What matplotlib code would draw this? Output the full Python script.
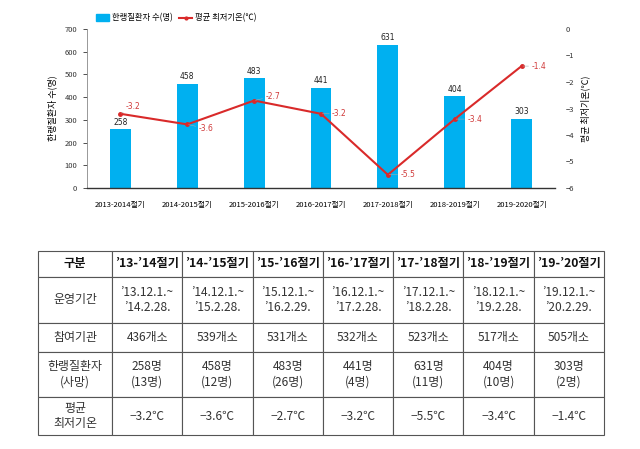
import matplotlib
matplotlib.use("Agg")
import matplotlib.pyplot as plt
from matplotlib.patches import Patch
from matplotlib.lines import Line2D

plt.rcParams['font.family'] = ['Noto Sans CJK KR', 'DejaVu Sans']

# data
seasons = ["2013-2014절기", "2014-2015절기", "2015-2016절기", "2016-2017절기",
           "2017-2018절기", "2018-2019절기", "2019-2020절기"]
patients = [258, 458, 483, 441, 631, 404, 303]
min_temp = [-3.2, -3.6, -2.7, -3.2, -5.5, -3.4, -1.4]

# table data
col_heads = ["구분", "’13-’14절기", "’14-’15절기", "’15-’16절기", "’16-’17절기",
             "’17-’18절기", "’18-’19절기", "’19-’20절기"]
periods = ["’13.12.1.~\n’14.2.28.", "’14.12.1.~\n’15.2.28.", "’15.12.1.~\n’16.2.29.",
           "’16.12.1.~\n’17.2.28.", "’17.12.1.~\n’18.2.28.", "’18.12.1.~\n’19.2.28.",
           "’19.12.1.~\n’20.2.29."]
institutions = [436, 539, 531, 532, 523, 517, 505]
deaths = [13, 12, 26, 4, 11, 10, 2]

bar_color = "#00b0f0"
line_color = "#d92a2a"

fig = plt.figure(figsize=(6.4, 4.49), dpi=100)

# chart
ax = fig.add_axes([87 / 640, 1 - 188 / 449, 468 / 640, 159 / 449])
x = list(range(len(seasons)))
ax.bar(x, patients, width=0.31, color=bar_color, zorder=2)
for xi, v in zip(x, patients):
    ax.text(xi, v + 12, str(v), ha="center", va="bottom", fontsize=5.5,
            color="#222222", family="DejaVu Sans")
ax.set_xlim(-0.5, 6.5)
ax.set_ylim(0, 700)
ax.set_yticks(range(0, 701, 100))
ax.set_xticks(x)
ax.set_xticklabels(seasons, fontsize=5.5)
ax.tick_params(axis="x", length=0, pad=9)
ax.tick_params(axis="y", length=3, width=0.6, labelsize=5.5, pad=4, colors="#333333")
for s in ["top", "right"]:
    ax.spines[s].set_visible(False)
ax.spines["left"].set_color("#888888")
ax.spines["left"].set_linewidth(0.6)
ax.spines["bottom"].set_color("#333333")
ax.spines["bottom"].set_linewidth(1.0)
ax.set_ylabel("한랭질환자 수(명)", fontsize=6.5, labelpad=5)

ax2 = ax.twinx()
ax2.plot(x, min_temp, color=line_color, lw=1.5, marker="o", ms=2.5, zorder=3)
ax2.set_ylim(-6, 0)
ax2.set_yticks(range(-6, 1))
ax2.tick_params(axis="y", length=0, labelsize=5.5, pad=8, colors="#333333")
for s in ["top", "left", "right", "bottom"]:
    ax2.spines[s].set_visible(False)
ax2.set_ylabel("평균 최저기온(℃)", fontsize=6.5, rotation=90, labelpad=4)

offsets = [(4, 5), (8, -3), (8, 3), (8, 0), (9, 0), (9, 0), (7, 0)]
for xi, t, off in zip(x, min_temp, offsets):
    ax2.annotate(f"{t}", (xi, t), xytext=off, textcoords="offset points",
                 ha="left", va="center", fontsize=5.5, color="#d03a3a",
                 family="DejaVu Sans",
                 arrowprops=dict(arrowstyle="-", lw=0.4, color="#aaaaaa",
                                 shrinkA=0, shrinkB=1))

handles = [Patch(color=bar_color), Line2D([], [], color=line_color, lw=1.5, marker="o", ms=2)]
fig.legend(handles, ["한랭질환자 수(명)", "평균 최저기온(℃)"],
           loc="center", bbox_to_anchor=(176 / 640, 1 - 18 / 449), ncol=2,
           frameon=False, fontsize=6, handlelength=1.6, handleheight=0.8,
           columnspacing=0.8, handletextpad=0.3)

# table
tax = fig.add_axes([38 / 640, 1 - 435 / 449, 566 / 640, 184 / 449])
tax.axis("off")
rows = [col_heads,
        ["운영기간"] + periods,
        ["참여기관"] + [f"{v}개소" for v in institutions],
        ["한랭질환자\n(사망)"] + [f"{p}명\n({d}명)" for p, d in zip(patients, deaths)],
        ["평균\n최저기온"] + [f"{t:.1f}℃".replace("-", "−") for t in min_temp]]
row_h = [26, 46, 29, 45, 38]
col_w = [74] + [70.3] * 7
tbl = tax.table(cellText=rows, cellLoc="center", loc="upper left",
                colWidths=[w / 566 for w in col_w], bbox=[0, 0, 1, 1])
tbl.auto_set_font_size(False)
for (r, c), cell in tbl.get_celld().items():
    cell.set_height(row_h[r] / 184)
    cell.set_edgecolor("#555555")
    cell.set_linewidth(0.8)
    txt = cell.get_text()
    txt.set_fontsize(8.6)
    txt.set_linespacing(1.25)
    if r == 0:
        txt.set_fontweight("bold")
        txt.set_fontsize(8.8)
        txt.set_color("#111111")
    else:
        txt.set_color("#333333")

fig.savefig("out.png", dpi=100)
